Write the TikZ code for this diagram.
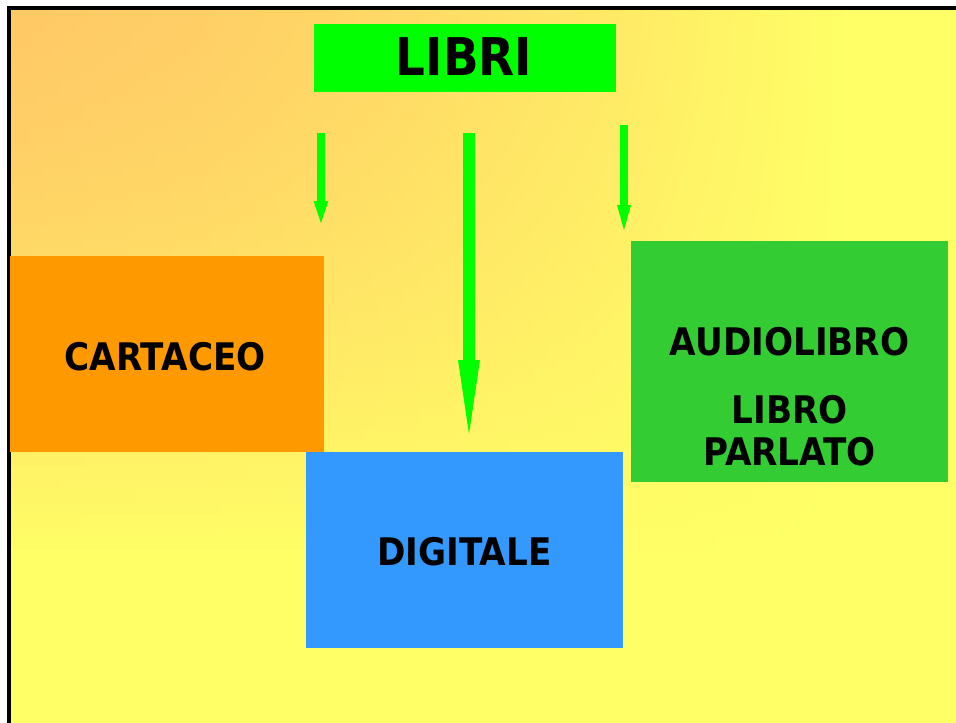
\documentclass[tikz,border=0pt]{standalone}
\usepackage{fontspec}
\newfontfamily\comic[FakeStretch=0.9]{DejaVu Sans}
\usetikzlibrary{calc}
\definecolor{bgorange}{HTML}{FFC966}
\definecolor{bgyellow}{HTML}{FFFF66}
\definecolor{librigreen}{HTML}{00FF00}
\definecolor{cartorange}{HTML}{FF9900}
\definecolor{digiblue}{HTML}{3399FF}
\definecolor{audiogreen}{HTML}{33CC33}
\tikzset{
  box/.style={draw=none, inner sep=0pt, outer sep=0pt},
  label/.style={font=\comic\bfseries\fontsize{38}{45}\selectfont, text=black, inner sep=0pt, align=center},
  arrowfill/.style={fill=librigreen, draw=none}
}
% #1 start, #2 end, #3 shaft half width, #4 head half width, #5 head length
\newcommand\grarrow[5]{%
  \fill[arrowfill] ($(#1)+(-#3,0)$) -- ($(#1)+(#3,0)$) -- ($(#2)+(#3,-#5)$) -- ($(#2)+(#4,-#5)$) -- (#2)
    -- ($(#2)+(-#4,-#5)$) -- ($(#2)+(-#3,-#5)$) -- cycle;}
\begin{document}
\begin{tikzpicture}[x=1pt,y=-1pt]
\useasboundingbox (0,0) rectangle (956,723);
% background: orange in the top-left corner fading to yellow
\fill[bgyellow] (10,10) rectangle (956,723);
\begin{scope}
  \clip (10,10) rectangle (956,723);
  \foreach \i in {0,...,45} {
    \pgfmathsetmacro\ya{10+\i*12}
    \pgfmathsetmacro\yb{\ya+13}
    \pgfmathsetmacro\fy{max(0,1-pow(min(1,(\ya+6)/559),1.55))}
    \pgfmathsetmacro\ta{100*\fy}
    \pgfmathsetmacro\tb{89.4*\fy}
    \pgfmathsetmacro\tc{68.8*\fy}
    \pgfmathsetmacro\td{41.6*\fy}
    \shade[left color=bgorange!\ta!bgyellow, right color=bgorange!\tb!bgyellow] (10,\ya) rectangle (201,\yb);
    \shade[left color=bgorange!\tb!bgyellow, right color=bgorange!\tc!bgyellow] (200,\ya) rectangle (401,\yb);
    \shade[left color=bgorange!\tc!bgyellow, right color=bgorange!\td!bgyellow] (400,\ya) rectangle (601,\yb);
    \shade[left color=bgorange!\td!bgyellow, right color=bgyellow] (600,\ya) rectangle (849,\yb);
  }
\end{scope}
\draw[black, line width=3.5pt] (8.8,723) -- (8.8,8) -- (956,8);
% boxes
\fill[librigreen] (314,24) rectangle (616,92);
\node[box, minimum width=302pt, minimum height=68pt] (libri) at (465,58) {};
\node[label, font=\comic\bfseries\fontsize{52}{60}\selectfont] (libritext) at (464,57) {LIBRI};
\fill[cartorange] (10,256) rectangle (324,452);
\node[box, minimum width=314pt, minimum height=196pt] (cart) at (167,354) {};
\node[label] (carttext) at (165,357) {CARTACEO};
\fill[digiblue] (306,452) rectangle (623,648);
\node[box, minimum width=317pt, minimum height=196pt] (digi) at (464.5,550) {};
\node[label] (digitext) at (464.5,552) {DIGITALE};
\fill[audiogreen] (631,241) rectangle (948,482);
\node[box, minimum width=317pt, minimum height=241pt] (audio) at (789.5,361.5) {};
\node[label] (audiotext1) at (789.5,342) {AUDIOLIBRO};
\node[label] (audiotext2) at (789.5,430.5) {LIBRO\\[-3pt]PARLATO};
% arrows
\coordinate (a1s) at (321,133);
\coordinate (a1e) at (321,223);
\coordinate (a2s) at (469,133);
\coordinate (a2e) at (469,434);
\coordinate (a3s) at (624,125);
\coordinate (a3e) at (624,230);
\grarrow{a1s}{a1e}{4}{7.5}{22}
\grarrow{a2s}{a2e}{6}{11}{74}
\grarrow{a3s}{a3e}{3.8}{7}{25}
\end{tikzpicture}
\end{document}
